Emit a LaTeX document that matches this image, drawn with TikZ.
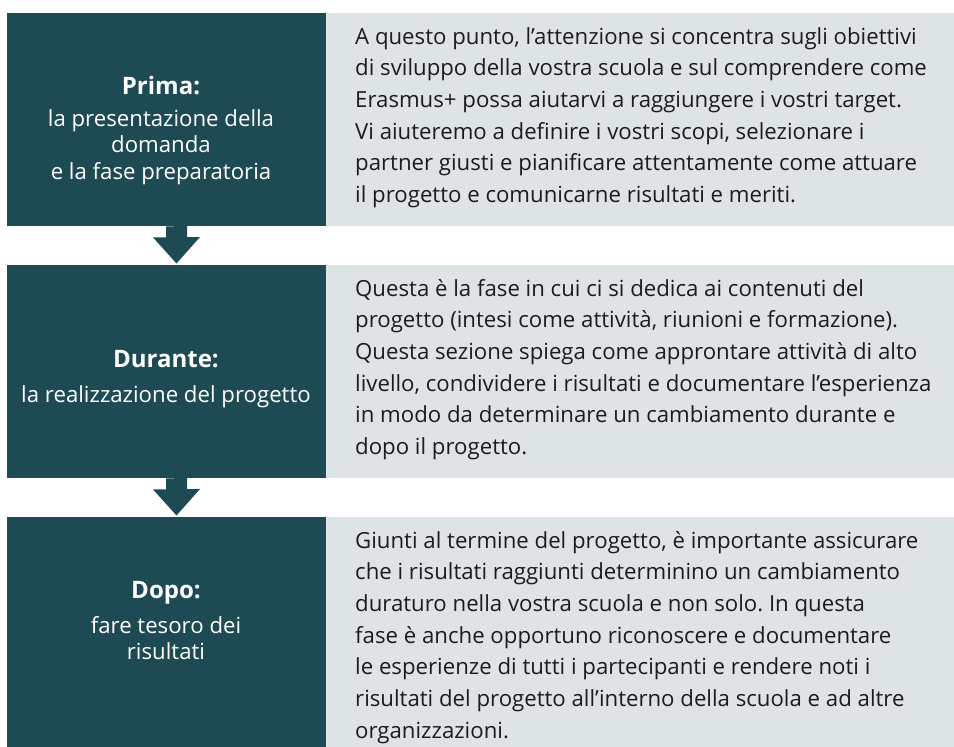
\documentclass[tikz,border=0pt]{standalone}
\usepackage{fontspec}
\setmainfont{Open Sans}
\usetikzlibrary{calc}
\definecolor{dark}{HTML}{1E4B53}
\definecolor{light}{HTML}{DEE4E5}
\definecolor{ink}{HTML}{1C1C1C}
\newcommand{\cl}[1]{\hbox to 0pt{\hss #1\hss}}
\frenchspacing
\begin{document}
\begin{tikzpicture}[x=1pt,y=-1pt,
  phase/.style={fill=dark, draw=none, inner sep=0, minimum width=319pt, minimum height=213pt, anchor=north west},
  info/.style={fill=light, draw=none, inner sep=0, minimum width=628pt, minimum height=213pt, anchor=north west},
  body/.style={anchor=base west, inner sep=0, text=ink, font=\fontsize{22.2}{31.7}\selectfont},
  ttl/.style={anchor=base, inner sep=0, text=white, font=\fontsize{24}{26}\selectfont\bfseries},
  sub/.style={anchor=base, inner sep=0, text=white, font=\fontsize{22.2}{26.5}\selectfont},
  flow/.style={fill=dark, draw=none}]
\useasboundingbox (0,0) rectangle (954,747);
% boxes
\node[phase] (b1) at (7,13) {};
\node[info] (i1) at (326,13) {};
\node[phase] (b2) at (7,265) {};
\node[info] (i2) at (326,265) {};
\node[phase, minimum height=230pt] (b3) at (7,517) {};
\node[info, minimum height=230pt] (i3) at (326,517) {};
% arrows
\path (b1.south west) ++(169.5,0) coordinate (a1);
\fill[flow] (a1) ++(-10.5,0) -- ++(0,11) -- ++(-13,0) -- ($(a1 |- b2.north)+(0,-1.5)$) -- ++(23.5,-26.5) -- ++(-13,0) -- ++(0,-11) -- cycle;
\path (b2.south west) ++(169.5,0) coordinate (a2);
\fill[flow] (a2) ++(-10.5,0) -- ++(0,11) -- ++(-13,0) -- ($(a2 |- b3.north)+(0,-1.5)$) -- ++(23.5,-26.5) -- ++(-13,0) -- ++(0,-11) -- cycle;
% left labels
\node[ttl] (h1) at (161,94) {Prima:};
\node[sub] (s1) at (161,126) {\vtop{\baselineskip=26.5pt\cl{la presentazione della}\cl{domanda}\cl{e la fase preparatoria}}};
\node[ttl] (h2) at (166,367) {Durante:};
\node[sub] (s2) at (166,402) {la realizzazione del progetto};
\node[ttl] (h3) at (166,598) {Dopo:};
\node[sub] (s3) at (166,633) {\vtop{\baselineskip=26.5pt\cl{fare tesoro dei}\cl{risultati}}};
% right texts
\node[body] (t1) at (355,44) {\vtop{\baselineskip=31.7pt
\hbox{A questo punto, l’attenzione si concentra sugli obiettivi}
\hbox{di sviluppo della vostra scuola e sul comprendere come}
\hbox{Erasmus+ possa aiutarvi a raggiungere i vostri target.}
\hbox{Vi aiuteremo a definire i vostri scopi, selezionare i}
\hbox{partner giusti e pianificare attentamente come attuare}
\hbox{il progetto e comunicarne risultati e meriti.}}};
\node[body] (t2) at (355,296) {\vtop{\baselineskip=31.7pt
\hbox{Questa è la fase in cui ci si dedica ai contenuti del}
\hbox{progetto (intesi come attività, riunioni e formazione).}
\hbox{Questa sezione spiega come approntare attività di alto}
\hbox{livello, condividere i risultati e documentare l’esperienza}
\hbox{in modo da determinare un cambiamento durante e}
\hbox{dopo il progetto.}}};
\node[body] (t3) at (355,548) {\vtop{\baselineskip=31.7pt
\hbox{Giunti al termine del progetto, è importante assicurare}
\hbox{che i risultati raggiunti determinino un cambiamento}
\hbox{duraturo nella vostra scuola e non solo. In questa}
\hbox{fase è anche opportuno riconoscere e documentare}
\hbox{le esperienze di tutti i partecipanti e rendere noti i}
\hbox{risultati del progetto all’interno della scuola e ad altre}
\hbox{organizzazioni.}}};
\end{tikzpicture}
\end{document}
